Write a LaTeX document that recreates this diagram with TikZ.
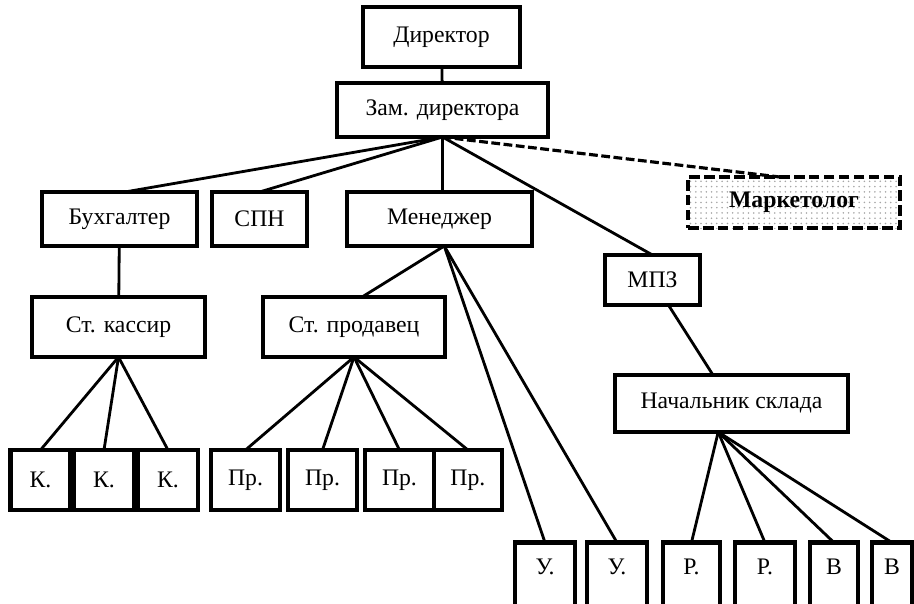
\documentclass[tikz,border=0pt]{standalone}
\usepackage{fontspec}
\setmainfont{Liberation Serif}
\usetikzlibrary{positioning, patterns}

\begin{document}
\begin{tikzpicture}[
    x=0.02cm, y=-0.02cm,
    unit/.style={draw, line width=2.6pt, inner sep=0pt, outer sep=0pt, minimum height=1.08cm, font=\fontsize{13.5}{15}\selectfont},
    leaf/.style={unit, minimum width=1.2cm, minimum height=1.2cm},
    low/.style={unit, minimum width=1.2cm, minimum height=1.3cm, text depth=0.32cm},
    link/.style={line width=1.6pt},
    side/.style={line width=1.8pt, dash pattern=on 5pt off 2pt}
]
    \useasboundingbox (0,0) rectangle (914,603);

    \node[unit, minimum width=3.14cm, minimum height=1.2cm] (dir) at (441.5,37) {Директор};
    \node[unit, minimum width=4.22cm] (zam) at (442.5,110) {Зам. директора};
    \node[unit, minimum width=3.1cm] (buh) at (119.5,219) {Бухгалтер};
    \node[unit, minimum width=1.9cm] (spn) at (259.5,219) {СПН};
    \node[unit, minimum width=3.7cm] (men) at (439.5,219) {Менеджер};
    \node[unit, minimum width=1.9cm, minimum height=1cm] (mpz) at (652.5,280) {МПЗ};
    \node[unit, line width=2.4pt, dash pattern=on 6pt off 2.5pt, pattern=dots, pattern color=gray!70,
          minimum width=4.24cm, minimum height=1.02cm, font=\fontsize{13.5}{15}\selectfont\bfseries] (mark) at (794,202.5) {Маркетолог};
    \node[unit, minimum width=3.46cm, minimum height=1.2cm] (kas) at (118.5,327) {Ст. кассир};
    \node[unit, minimum width=3.64cm, minimum height=1.2cm] (prod) at (354,327) {Ст. продавец};
    \node[unit, minimum width=4.66cm, minimum height=1.14cm] (nach) at (731.5,403.5) {Начальник склада};

    \node[leaf] (k1) at (40.5,480) {К.};
    \node[leaf, right=0.07cm of k1] (k2) {К.};
    \node[leaf, right=0.08cm of k2] (k3) {К.};

    \node[leaf, minimum width=1.38cm] (p1) at (245.5,480) {Пр.};
    \node[leaf, minimum width=1.38cm, right=0.16cm of p1] (p2) {Пр.};
    \node[leaf, minimum width=1.38cm, right=0.16cm of p2] (p3) {Пр.};
    \node[leaf, minimum width=1.36cm, right=0cm of p3] (p4) {Пр.};

    \node[low] (u1) at (545,575) {У.};
    \node[low, right=0.24cm of u1] (u2) {У.};
    \node[low, minimum width=1.14cm, right=0.32cm of u2] (r1) {Р.};
    \node[low, right=0.3cm of r1] (r2) {Р.};
    \node[low, minimum width=0.96cm, right=0.3cm of r2] (v1) {В};
    \node[low, minimum width=0.8cm, right=0.28cm of v1] (v2) {В};

    \draw[link] (dir) -- (zam);
    \draw[link] (zam.south) -- (buh.79);
    \draw[link] (zam.south) -- (spn.north);
    \draw[link] (zam.south) -- (zam.south |- men.north);
    \draw[link] (zam.south) -- (mpz.north);
    \draw[side] (zam.south) -- (mark.119);
    \draw[link] (buh) -- (kas);
    \draw[link] (men.280) -- (prod.75);
    \draw[link] (mpz) -- (nach.123);

    \foreach \t in {k1,k2,k3}
        \draw[link] (kas.south) -- (\t.north);
    \foreach \t in {p1,p2,p3,p4}
        \draw[link] (prod.south) -- (\t.north);
    \foreach \t in {u1,u2}
        \draw[link] (men.280) -- (\t.north);
    \foreach \t in {r1,r2,v1,v2}
        \draw[link] (nach.245) -- (\t.north);
\end{tikzpicture}
\end{document}
